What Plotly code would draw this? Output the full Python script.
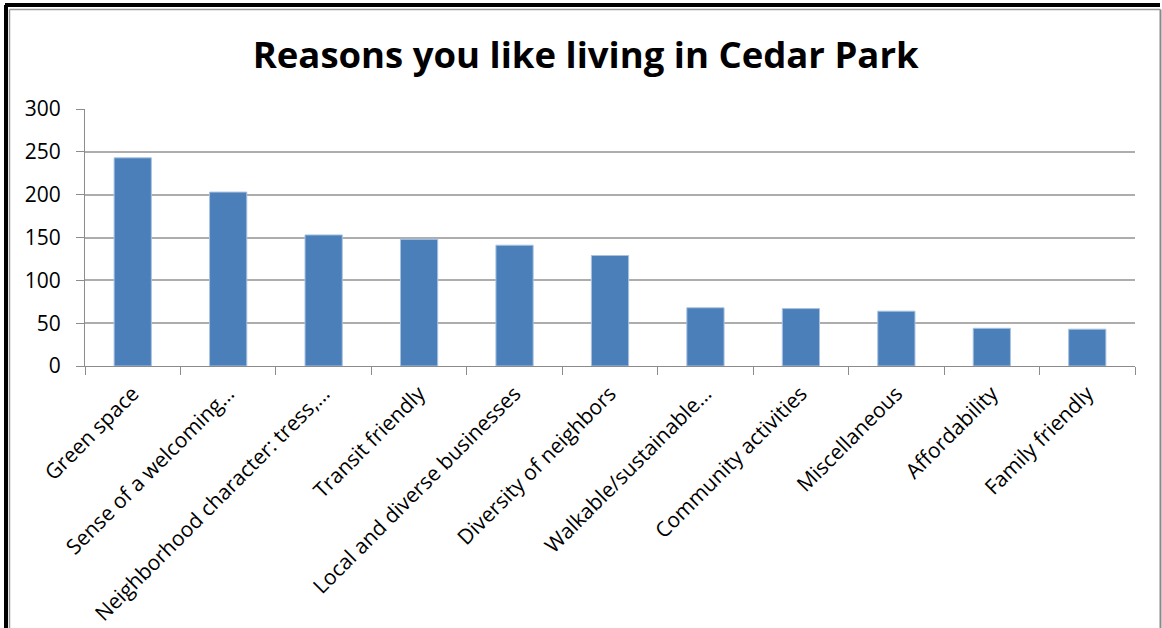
import plotly.graph_objects as go

# Survey responses: reasons residents like living in Cedar Park
categories = [
    "Green space",
    "Sense of a welcoming…",
    "Neighborhood character: tress,…",
    "Transit friendly",
    "Local and diverse businesses",
    "Diversity of neighbors",
    "Walkable/sustainable…",
    "Community activities",
    "Miscellaneous",
    "Affordability",
    "Family friendly",
]
responses = [243, 203, 153, 148, 141, 129, 68, 67, 64, 44, 43]
y_ticks = [0, 50, 100, 150, 200, 250, 300]

W, H = 1162, 628
ML, MR, MT, MB = 85, 27, 109, 262
PW, PH = W - ML - MR, H - MT - MB

FONT = "Open Sans"
BAR_BLUE = "#4A7FBA"
GRID = "#ADADAD"
AXIS = "#8C8C8C"

fig = go.Figure(
    go.Bar(
        x=categories,
        y=responses,
        marker=dict(color=BAR_BLUE, line=dict(color="#A9C2E0", width=1)),
        hoverinfo="x+y",
    )
)


def px_to_paper_x(px):
    return (px - ML) / PW


def px_to_paper_y(py):
    return (H - MB - py) / PH


# Chart-area frame: heavy dark edge top/left, thin grey inner outline
frame = [
    dict(x0=5, y0=5, x1=1160, y1=5, color="#000000", width=4),
    dict(x0=6, y0=5, x1=6, y1=H, color="#000000", width=4),
    dict(x0=9.5, y0=9.5, x1=1160.5, y1=9.5, color="#9A9A9A", width=1.5),
    dict(x0=9.5, y0=9.5, x1=9.5, y1=H, color="#9A9A9A", width=1.5),
    dict(x0=1160.5, y0=9.5, x1=1160.5, y1=H, color="#8A8A8A", width=2),
]
shapes = []
for f in frame:
    shapes.append(
        dict(
            type="line",
            xref="paper",
            yref="paper",
            x0=px_to_paper_x(f["x0"]),
            x1=px_to_paper_x(f["x1"]),
            y0=px_to_paper_y(f["y0"]),
            y1=px_to_paper_y(f["y1"]),
            line=dict(color=f["color"], width=f["width"]),
            layer="above",
        )
    )

fig.update_layout(
    width=W,
    height=H,
    margin=dict(l=ML, r=MR, t=MT, b=MB, pad=0, autoexpand=False),
    paper_bgcolor="white",
    plot_bgcolor="white",
    bargap=0.61,
    showlegend=False,
    title=dict(
        text="<b>Reasons you like living in Cedar Park</b>",
        font=dict(family=FONT, size=36.5, color="#000000"),
        x=0.504,
        xref="container",
        y=1 - 55 / H,
        yanchor="middle",
        xanchor="center",
    ),
    font=dict(family=FONT, color="#000000"),
    shapes=shapes,
)

fig.update_xaxes(
    type="category",
    automargin=False,
    tickangle=-45,
    tickfont=dict(family=FONT, size=21, color="#000000"),
    showline=True,
    linecolor=AXIS,
    linewidth=1,
    ticks="outside",
    tickson="boundaries",
    ticklen=8,
    tickcolor=AXIS,
    showgrid=False,
    ticklabelstandoff=6,
)

fig.update_yaxes(
    range=[0, 300],
    automargin=False,
    tickvals=y_ticks,
    tickfont=dict(family=FONT, size=21, color="#000000"),
    showline=True,
    linecolor=AXIS,
    linewidth=1,
    ticks="outside",
    ticklen=8,
    tickcolor=AXIS,
    showgrid=True,
    gridcolor=GRID,
    gridwidth=1.5,
    zeroline=False,
    ticklabelstandoff=11,
)

fig.write_html("out.html")
